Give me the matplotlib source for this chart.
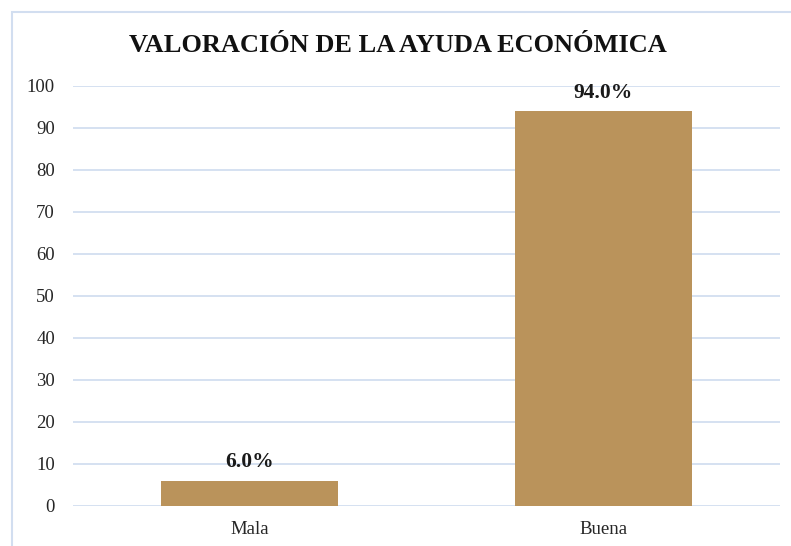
import matplotlib
matplotlib.use('Agg')
import matplotlib.pyplot as plt
from matplotlib.patches import Rectangle

# datos del grafico
categorias = ['Mala', 'Buena']
valores = [6.0, 94.0]
etiquetas = ['6.0%', '94.0%']
yticks = [0, 10, 20, 30, 40, 50, 60, 70, 80, 90, 100]

plt.rcParams['font.family'] = ['Liberation Serif', 'DejaVu Serif']

fig = plt.figure(figsize=(7.91, 5.46), dpi=100)
ax = fig.add_axes([73/791, 1-506/546, (780-73)/791, (506-86)/546])

# borde exterior (solo arriba e izquierda visibles)
fig.patches.append(Rectangle((12/791, -0.1), 1.2, 1-12/546+0.1, transform=fig.transFigure,
                             fill=False, edgecolor='#D2DEF0', linewidth=1.5))

x = range(len(categorias))
barras = ax.bar(x, valores, width=0.5, color='#BA935B', zorder=3)
for b, t in zip(barras, etiquetas):
    ax.annotate(t, (b.get_x() + b.get_width()/2, b.get_height()), xytext=(0, 6),
                textcoords='offset points', ha='center', va='bottom',
                fontsize=15.5, fontweight='bold', color='#1a1a1a')

ax.set_xlim(-0.5, 1.5)
ax.set_ylim(0, 100)
ax.set_yticks(yticks)
ax.set_xticks(list(x))
ax.set_xticklabels(categorias)
ax.tick_params(axis='both', length=0, labelsize=13.5, colors='#262626')
ax.tick_params(axis='y', pad=13)
ax.tick_params(axis='x', pad=11)
ax.grid(axis='y', color='#D2DEF0', linewidth=1.3, zorder=0)
for s in ax.spines.values():
    s.set_visible(False)

fig.text(0.503, 1-45/546, 'VALORACIÓN DE LA AYUDA ECONÓMICA', ha='center', va='center',
         fontsize=19, fontweight='bold', color='#111111')

fig.savefig('out.png', dpi=100)
